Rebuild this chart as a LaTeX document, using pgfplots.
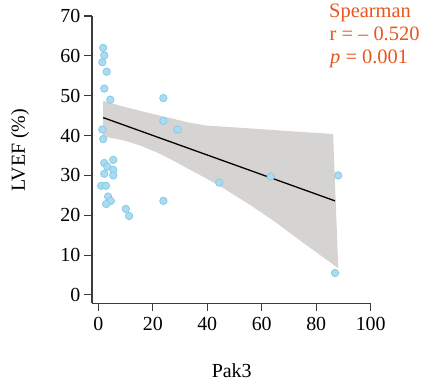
\documentclass[border=0pt]{standalone}
\usepackage{pgfplots}
\pgfplotsset{compat=1.18}
\usepackage{fontspec}
\setmainfont{Liberation Serif}
\definecolor{ptfill}{RGB}{172,219,239}
\definecolor{ptdraw}{RGB}{135,203,232}
\definecolor{band}{RGB}{213,212,211}
\definecolor{orng}{RGB}{232,85,30}
\definecolor{axgray}{RGB}{60,60,60}
\begin{document}
\begin{tikzpicture}
\begin{axis}[
  at={(0,0)}, anchor=south west,
  scale only axis, width=278.7bp, height=287.3bp,
  xmin=-2.3, xmax=100, ymin=-2.1, ymax=70,
  axis lines=left,
  axis line style={-, draw=axgray, line width=1.1bp},
  xtick={0,20,...,100}, ytick={0,10,...,70},
  tick align=outside, major tick length=8bp,
  tick style={axgray, line width=1.1bp},
  ticklabel style={font=\fontsize{20}{22}\selectfont},
  xticklabel style={inner sep=6bp},
  yticklabel style={inner sep=3.5bp},
  /pgf/number format/assume math mode=true,
  clip=false,
]
\addplot[fill=band, draw=none] coordinates {
 (1.8,48.7) (9,47.3) (16.5,46.0) (25,44.6) (33.7,43.2) (39.8,42.5) (55.7,41.8) (70,41.1) (86.2,40.4)
 (88.1,6.7) (75,13.2) (65,18.3) (55.7,22.6) (45.9,26.8) (40,29.1) (33.7,31.4) (27,33.9) (21.4,35.8) (15,37.6) (9.2,38.8) (2.5,39.7) (1.8,39.9)
} -- cycle;
\addplot[black, line width=1.3bp] coordinates {(1.8,44.5) (86.9,23.6)};
\addplot[only marks, mark=*, mark size=3.7bp, mark options={fill=ptfill, draw=ptdraw, line width=0.8bp}] coordinates {
(1.8,62.0) (2.2,60.1) (1.5,58.4) (3.1,56.0) (2.2,51.8) (4.4,49.0) (23.9,49.4) (23.9,43.7)
(29.1,41.5) (1.5,41.5) (1.8,39.1) (5.5,33.9) (2.2,33.1) (3.3,32.2) (5.5,31.4) (2.2,30.4)
(5.5,30.0) (1.1,27.4) (2.8,27.4) (3.6,24.7) (4.6,23.6) (2.9,22.8) (23.9,23.6) (10.1,21.6)
(11.3,19.8) (44.4,28.2) (63.3,29.7) (88.1,30.0) (86.9,5.5)
};
\end{axis}
\node[anchor=base west, inner sep=0, text=orng, font=\fontsize{20.5}{22}\selectfont] at (237bp,285.3bp) {Spearman};
\node[anchor=base west, inner sep=0, text=orng, font=\fontsize{20.5}{22}\selectfont] at (237.5bp,262.3bp) {r = – 0.520};
\node[anchor=base west, inner sep=0, text=orng, font=\fontsize{20.5}{22}\selectfont] at (238bp,239.8bp) {\textit{p} = 0.001};
\node[anchor=base, rotate=90, inner sep=0, font=\fontsize{20}{22}\selectfont] at (-67bp,153bp) {LVEF (\%)};
\node[anchor=base, inner sep=0, font=\fontsize{20}{22}\selectfont] at (139.7bp,-74.4bp) {Pak3};
\pgfresetboundingbox
\useasboundingbox (-92bp,-83.7bp) rectangle (334bp,303.3bp);
\end{tikzpicture}
\end{document}
